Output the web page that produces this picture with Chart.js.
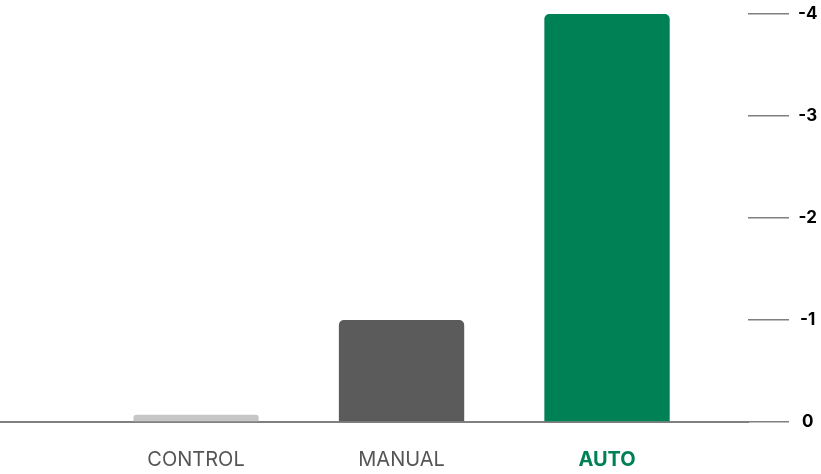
<!DOCTYPE html>
<html>
<head>
<meta charset="utf-8">
<script src="https://cdn.jsdelivr.net/npm/chart.js@4"></script>
<style>
  html, body { margin: 0; padding: 0; background: #fff; }
  #wrap { width: 821px; height: 474px; }
</style>
</head>
<body>
<div id="wrap"><canvas id="myChart"></canvas></div>
<script>
const categories = ["CONTROL", "MANUAL", "AUTO"];
const values = [-0.07, -1, -4];
const barColors = ["#c6c6c6", "#5b5b5b", "#008055"];
const labelColors = ["#555555", "#555555", "#008055"];
const yTicks = [0, -1, -2, -3, -4];

const FONT = "Inter, 'Noto Sans', sans-serif";

const ctx = document.getElementById("myChart");

new Chart(ctx, {
  type: "bar",
  data: {
    datasets: [
      {
        data: values.map((v, i) => ({ x: i, y: v })),
        backgroundColor: barColors,
        borderRadius: 5,
        borderSkipped: "start",
        barPercentage: 0.61,
        categoryPercentage: 1,
      },
    ],
  },
  options: {
    responsive: true,
    maintainAspectRatio: false,
    animation: false,
    layout: { padding: { top: 14, bottom: 0, left: 0, right: 0 } },
    plugins: {
      legend: { display: false },
      tooltip: { enabled: false },
    },
    scales: {
      x: {
        type: "linear",
        offset: false,
        min: -0.954,
        max: 2.686,
        grid: { display: false, drawTicks: false },
        border: { display: true, color: "#808080", width: 2 },
        afterBuildTicks: (scale) => {
          scale.ticks = categories.map((c, i) => ({ value: i }));
        },
        afterFit: (scale) => {
          scale.height = 52;
        },
        ticks: {
          autoSkip: false,
          maxRotation: 0,
          padding: 26,
          callback: (value) => categories[value] ?? "",
          color: (c) => labelColors[c.tick && c.tick.value] || "#555",
          font: (c) => ({
            family: FONT,
            size: 20,
            weight: c.tick && c.tick.value === 2 ? "bold" : "normal",
          }),
        },
      },
      y: {
        position: "right",
        reverse: true,
        min: Math.min(...yTicks),
        max: Math.max(...yTicks),
        afterBuildTicks: (scale) => {
          scale.ticks = yTicks.map((v) => ({ value: v }));
        },
        afterFit: (scale) => {
          scale.width = 73;
          scale.paddingTop = 0;
          scale.paddingBottom = 0;
        },
        border: { display: false },
        grid: {
          drawOnChartArea: false,
          drawTicks: true,
          tickLength: 41,
          color: "#808080",
          lineWidth: 1.6,
        },
        ticks: {
          padding: 9,
          crossAlign: "center",
          color: "#000",
          font: { family: FONT, size: 17, weight: "bold" },
        },
      },
    },
  },
});
</script>
</body>
</html>
